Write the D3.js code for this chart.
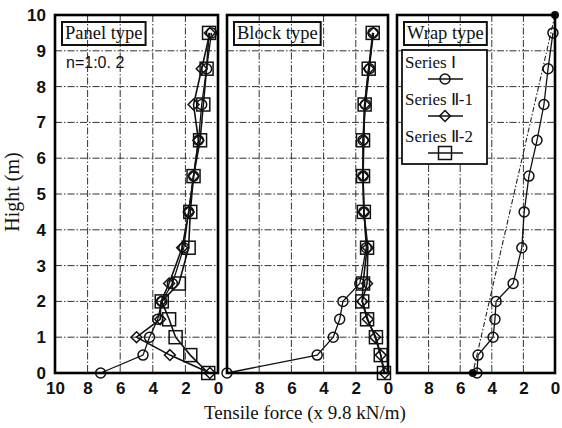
<!DOCTYPE html>
<html>
<head>
<meta charset="utf-8">
<script src="https://d3js.org/d3.v7.min.js"></script>
<style>
  body { margin: 0; background: #fff; }
  svg { display: block; }
</style>
</head>
<body>
<svg width="562" height="428"></svg>

<script>
// heights of the measuring points (m)
const heights = [9.5, 8.5, 7.5, 6.5, 5.5, 4.5, 3.5, 2.5, 2.0, 1.5, 1.0, 0.5, 0];

const panelNames = ["Panel type", "Block type", "Wrap type"];
const seriesNames = ["Series \u2160", "Series \u2161-1", "Series \u2161-2"];

// tensile force (x 9.8 kN/m)
const panelSeriesI   = [0.4, 0.7, 1.0, 1.2, 1.5, 1.8, 2.1, 2.8, 3.45, 3.7, 4.2, 4.6, 7.2];
const panelSeriesII1 = [0.5, 1.0, 1.5, 1.2, 1.5, 1.8, 2.2, 3.0, 3.5, 3.55, 5.0, 2.95, 0.5];
const panelSeriesII2 = [0.55, 0.7, 0.9, 1.1, 1.5, 1.7, 1.8, 2.4, 3.45, 3.0, 2.6, 1.7, 0.6];

const blockSeriesI   = [0.93, 1.15, 1.4, 1.55, 1.55, 1.5, 1.35, 1.75, 2.8, 3.0, 3.4, 4.4, 10.0];
const blockSeriesII1 = [0.9, 1.2, 1.45, 1.5, 1.55, 1.5, 1.25, 1.3, 1.6, 1.25, 0.8, 0.45, 0.2];
const blockSeriesII2 = [0.95, 1.2, 1.45, 1.55, 1.55, 1.5, 1.3, 1.55, 1.6, 1.3, 0.75, 0.45, 0.25];

const wrapSeriesI = [0.13, 0.44, 0.7, 1.14, 1.65, 1.95, 2.1, 2.65, 3.73, 3.8, 3.92, 4.87, 4.94];

// dash-dot reference line in the wrap panel
const wrapLineForce = [0, 5.2];
const wrapLineHeight = [10, 0];

const yTicks = [0, 1, 2, 3, 4, 5, 6, 7, 8, 9, 10];
const xTicksFirst = [10, 8, 6, 4, 2, 0];
const xTicksOther = [8, 6, 4, 2, 0];
const xGrid = [2, 4, 6, 8];
const yGrid = [1, 2, 3, 4, 5, 6, 7, 8, 9];

const panelData = [
  [panelSeriesI, panelSeriesII1, panelSeriesII2],
  [blockSeriesI, blockSeriesII1, blockSeriesII2],
  [wrapSeriesI]
];

const svg = d3.select("svg");
const plotTop = 15, plotBottom = 373;
const panelX = [[55, 218], [227, 388], [397, 555]];

const y = d3.scaleLinear().domain([0, 10]).range([plotBottom, plotTop]);

const gridDash = "7,2,1.5,2";
const tickFont = "'Liberation Sans Narrow', 'Liberation Sans', Arial, sans-serif";
const serif = "'Liberation Serif', 'Times New Roman', serif";

function marker(g, kind, cx, cy) {
  if (kind == 0) {
    g.append("circle").attr("cx", cx).attr("cy", cy).attr("r", 5);
  } else if (kind == 1) {
    g.append("path").attr("d", d3.symbol().type(d3.symbolDiamond2).size(75)()).attr("transform", "translate(" + cx + "," + cy + ")");
  } else {
    g.append("rect").attr("x", cx - 6.5).attr("y", cy - 6.5).attr("width", 13).attr("height", 13);
  }
}

panelX.forEach(function(px, p) {
  const x = d3.scaleLinear().domain([10, 0]).range(px);
  const g = svg.append("g");

  // grid
  g.selectAll(".hg").data(yGrid).enter().append("line")
    .attr("x1", px[0]).attr("x2", px[1])
    .attr("y1", function(d) { return y(d); }).attr("y2", function(d) { return y(d); })
    .attr("stroke", "#333").attr("stroke-width", 1).attr("stroke-dasharray", gridDash);
  g.selectAll(".vg").data(xGrid).enter().append("line")
    .attr("x1", function(d) { return x(d); }).attr("x2", function(d) { return x(d); })
    .attr("y1", plotTop).attr("y2", plotBottom)
    .attr("stroke", "#333").attr("stroke-width", 1).attr("stroke-dasharray", gridDash);

  // x axis labels
  const xa = g.append("g").attr("transform", "translate(0," + plotBottom + ")")
    .call(d3.axisBottom(x).tickValues(p == 0 ? xTicksFirst : xTicksOther).tickSize(0).tickPadding(9));
  xa.select(".domain").remove();
  xa.selectAll("text").attr("font-family", tickFont).attr("font-size", 17).attr("font-weight", "bold").attr("fill", "#111");

  // reference line for the wrap panel
  if (p == 2) {
    const pts = wrapLineForce.map(function(v, i) { return [x(v), y(wrapLineHeight[i])]; });
    g.append("path").attr("d", d3.line()(pts))
      .attr("fill", "none").attr("stroke", "#222").attr("stroke-width", 1.1).attr("stroke-dasharray", "5,2,1.5,2");
    pts.forEach(function(pt) {
      g.append("circle").attr("cx", pt[0]).attr("cy", pt[1]).attr("r", 4).attr("fill", "#111");
    });
  }

  // series
  panelData[p].forEach(function(vals, s) {
    const pts = vals.map(function(v, i) { return [x(v), y(heights[i])]; });
    g.append("path").attr("d", d3.line()(pts))
      .attr("fill", "none").attr("stroke", "#111").attr("stroke-width", s == 0 ? 1.3 : 1.6);
    const mg = g.append("g").attr("fill", "none").attr("stroke", "#111").attr("stroke-width", 1.5);
    pts.forEach(function(pt) { marker(mg, s, pt[0], pt[1]); });
  });

  // frame
  g.append("rect").attr("x", px[0]).attr("y", plotTop).attr("width", px[1] - px[0]).attr("height", plotBottom - plotTop)
    .attr("fill", "none").attr("stroke", "#000").attr("stroke-width", 2.6);

  // title box
  const tx = px[0] + 7;
  const tt = g.append("text").attr("x", tx + 3).attr("y", 39).text(panelNames[p])
    .attr("font-family", serif).attr("font-size", 18.5).attr("fill", "#111");
  const w = tt.node().getComputedTextLength();
  g.append("rect").attr("x", tx).attr("y", 22).attr("width", w + 6).attr("height", 23)
    .attr("fill", "none").attr("stroke", "#111").attr("stroke-width", 2);
});

// n = 1:0.2 note
svg.append("text").attr("x", 66).attr("y", 68).text("n=1:0. 2")
  .attr("font-family", tickFont).attr("font-size", 16).attr("fill", "#111");

// y axis labels
const ya = svg.append("g").attr("transform", "translate(" + panelX[0][0] + ",0)")
  .call(d3.axisLeft(y).tickValues(yTicks).tickSize(0).tickPadding(9));
ya.select(".domain").remove();
ya.selectAll("text").attr("font-family", tickFont).attr("font-size", 17).attr("font-weight", "bold").attr("fill", "#111");

// legend
const lg = svg.append("g");
lg.append("rect").attr("x", 402).attr("y", 50).attr("width", 85).attr("height", 114)
  .attr("fill", "#fff").attr("stroke", "#111").attr("stroke-width", 1.8);
seriesNames.forEach(function(name, s) {
  const by = 68 + s * 37;
  lg.append("text").attr("x", 405).attr("y", by).text(name)
    .attr("font-family", serif).attr("font-size", 17).attr("fill", "#111");
  lg.append("line").attr("x1", 428).attr("x2", 463).attr("y1", by + 11).attr("y2", by + 11)
    .attr("stroke", "#111").attr("stroke-width", 1.5);
  const mg = lg.append("g").attr("fill", "none").attr("stroke", "#111").attr("stroke-width", 1.5);
  marker(mg, s, 445, by + 11);
});

// axis titles
svg.append("text").attr("x", 305).attr("y", 419).attr("text-anchor", "middle")
  .text("Tensile force (x 9.8 kN/m)")
  .attr("font-family", serif).attr("font-size", 19).attr("fill", "#111");
svg.append("text").attr("transform", "translate(19,192) rotate(-90)").attr("text-anchor", "middle")
  .text("Hight (m)")
  .attr("font-family", serif).attr("font-size", 20).attr("fill", "#111");
</script>
</body>
</html>
